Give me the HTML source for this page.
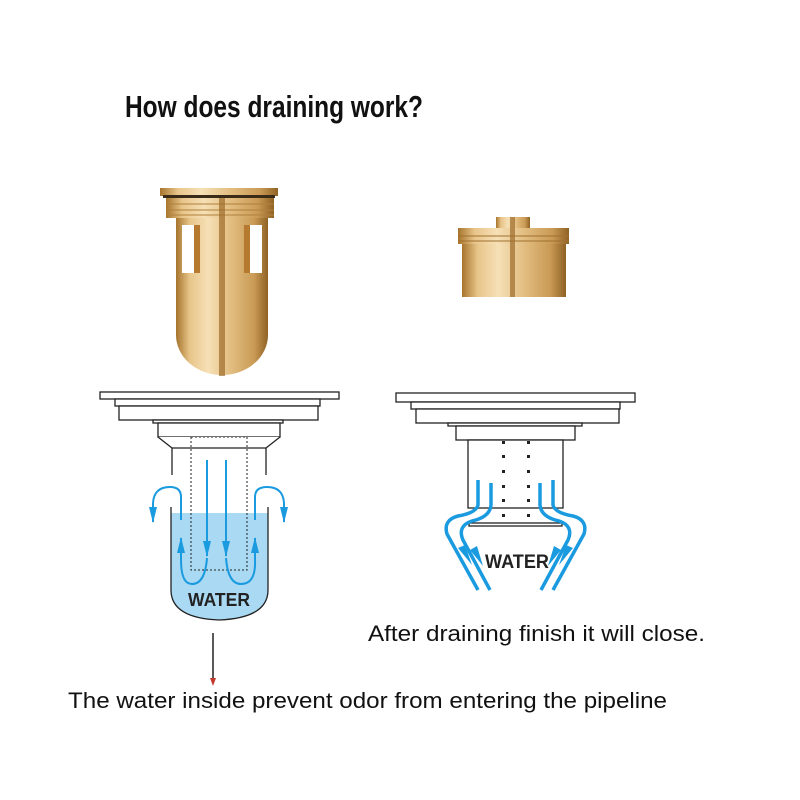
<!DOCTYPE html>
<html><head><meta charset="utf-8"><style>
html,body{margin:0;padding:0;background:#fff;width:800px;height:800px;overflow:hidden}
</style></head><body>
<svg width="800" height="800" viewBox="0 0 800 800" xmlns="http://www.w3.org/2000/svg">
<defs>
<linearGradient id="g" x1="0" x2="1" y1="0" y2="0">
<stop offset="0" stop-color="#a6742c"/><stop offset="0.15" stop-color="#e8c58a"/><stop offset="0.35" stop-color="#f6e0b6"/><stop offset="0.6" stop-color="#e2bd80"/><stop offset="0.85" stop-color="#c99a55"/><stop offset="1" stop-color="#8f6224"/>
</linearGradient>
<marker id="ab2" markerWidth="16" markerHeight="8" refX="15" refY="4" orient="auto" markerUnits="userSpaceOnUse"><path d="M0,0 L16,4 L0,8z" fill="#1a9be0"/></marker>
</defs>
<text x="125" y="117" font-family="'Liberation Sans Narrow','Liberation Sans',sans-serif" font-weight="bold" font-size="31" textLength="298" lengthAdjust="spacingAndGlyphs" fill="#111">How does draining work?</text>

<!-- left gold -->
<rect x="160" y="188" width="118" height="8" fill="url(#g)"/>
<rect x="163" y="195" width="112" height="3" fill="#3a2a18"/>
<rect x="166" y="198" width="108" height="20" fill="url(#g)"/>
<g stroke="#b0803c" stroke-width="1"><line x1="166" y1="204" x2="274" y2="204"/><line x1="166" y1="210" x2="274" y2="210"/><line x1="166" y1="215" x2="274" y2="215"/></g>
<path d="M176,218 H268 V335 A46,40 0 0 1 176,335 Z" fill="url(#g)"/>
<rect x="182" y="225" width="12" height="48" fill="#fff"/><rect x="250" y="225" width="12" height="48" fill="#fff"/>
<rect x="194" y="225" width="6" height="48" fill="#b57a30"/><rect x="244" y="225" width="6" height="48" fill="#b57a30"/>
<rect x="219" y="198" width="6" height="178" fill="#9c6b2a" opacity="0.7"/>

<!-- right gold -->
<rect x="496" y="217" width="34" height="11" fill="url(#g)"/>
<rect x="458" y="228" width="111" height="16" fill="url(#g)"/>
<g stroke="#a0702e"><line x1="458" y1="236" x2="569" y2="236"/><line x1="458" y1="241" x2="569" y2="241"/></g>
<rect x="462" y="244" width="104" height="53" fill="url(#g)"/>
<rect x="510" y="217" width="5" height="80" fill="#9c6b2a" opacity="0.7"/>

<!-- left drain -->
<g fill="#fff" stroke="#222" stroke-width="1.3">
<rect x="100" y="392" width="239" height="7"/>
<rect x="115" y="399" width="205" height="7"/>
<rect x="119" y="406" width="199" height="14"/>
<rect x="153" y="420" width="130" height="3"/>
<rect x="158" y="423" width="122" height="14"/>
<path d="M158,437 L172,448 H266 L280,437"/>
</g>
<path d="M171,513 H268 V590 Q268,618 219,620 Q171,618 171,590 Z" fill="#a9d9f3"/>
<g stroke="#222" stroke-width="1.3" fill="none">
<line x1="172" y1="448" x2="172" y2="475"/><line x1="266" y1="448" x2="266" y2="475"/>
<path d="M171,507 V590 Q171,618 219,620 Q268,618 268,590 V507"/>
</g>
<rect x="191" y="437" width="56" height="133" fill="none" stroke="#222" stroke-dasharray="2,2"/>
<g stroke="#1a9be0" stroke-width="2" fill="none">
<line x1="207" y1="460" x2="207" y2="556" marker-end="url(#ab2)"/>
<line x1="226" y1="460" x2="226" y2="556" marker-end="url(#ab2)"/>
<path d="M207,558 Q205,584 192,584 Q181,584 181,560 L181,538" marker-end="url(#ab2)"/>
<path d="M226,558 Q228,584 241,584 Q256,584 255,560 L255,538" marker-end="url(#ab2)"/>
<path d="M181,520 V497 Q181,487 170,487 Q154,487 153,503 V522" marker-end="url(#ab2)"/>
<path d="M255,520 V497 Q255,487 267,487 Q283,487 284,503 V522" marker-end="url(#ab2)"/>
</g>
<text x="219" y="606" text-anchor="middle" font-family="'Liberation Sans Narrow','Liberation Sans',sans-serif" font-weight="bold" font-size="18" textLength="62" lengthAdjust="spacingAndGlyphs" fill="#222">WATER</text>
<line x1="213" y1="633" x2="213" y2="683" stroke="#222" stroke-width="1.5"/>
<path d="M210,678 L216,678 L213,686z" fill="#c0392b"/>

<!-- right drain -->
<g fill="#fff" stroke="#222" stroke-width="1.3">
<rect x="396" y="393" width="239" height="9"/>
<rect x="411" y="402" width="209" height="7"/>
<rect x="416" y="409" width="203" height="14"/>
<rect x="448" y="423" width="134" height="3"/>
<rect x="456" y="426" width="119" height="14"/>
<rect x="468" y="440" width="95" height="68"/>
<rect x="469" y="523" width="93" height="3"/>
</g>
<g fill="#222">
<rect x="502" y="441" width="3" height="3"/><rect x="527" y="441" width="3" height="3"/>
<rect x="502" y="455" width="3" height="3"/><rect x="527" y="455" width="3" height="3"/>
<rect x="502" y="470" width="3" height="3"/><rect x="527" y="470" width="3" height="3"/>
<rect x="502" y="485" width="3" height="3"/><rect x="527" y="485" width="3" height="3"/>
<rect x="502" y="499" width="3" height="3"/><rect x="527" y="499" width="3" height="3"/>
<rect x="502" y="514" width="3" height="3"/><rect x="527" y="514" width="3" height="3"/>
</g>
<g stroke="#1a9be0" stroke-width="3.5" fill="none" stroke-linejoin="round">
<path d="M478,480 V505 Q476,513 458,516 Q443,520 447,534 L478,590"/>
<path d="M491,483 V505 Q490,517 472,521 Q457,526 463,540 L490,590"/>
<path d="M553,480 V505 Q555,513 573,516 Q588,520 584,534 L553,590"/>
<path d="M540,483 V505 Q541,517 559,521 Q574,526 568,540 L541,590"/>
</g>
<g fill="#1a9be0">
<path d="M458,548 L472,565 L465,545z"/><path d="M470,550 L483,566 L477,546z"/>
<path d="M573,548 L559,565 L566,545z"/><path d="M561,550 L548,566 L554,546z"/>
</g>
<text x="517" y="568" text-anchor="middle" font-family="'Liberation Sans Narrow','Liberation Sans',sans-serif" font-weight="bold" font-size="19" textLength="64" lengthAdjust="spacingAndGlyphs" fill="#222">WATER</text>

<text x="368" y="641" font-family="'Liberation Sans',sans-serif" font-size="22" textLength="337" lengthAdjust="spacingAndGlyphs" fill="#111">After draining finish it will close.</text>
<text x="68" y="708" font-family="'Liberation Sans',sans-serif" font-size="22" textLength="599" lengthAdjust="spacingAndGlyphs" fill="#111">The water inside prevent odor from entering the pipeline</text>
</svg>
</body></html>
